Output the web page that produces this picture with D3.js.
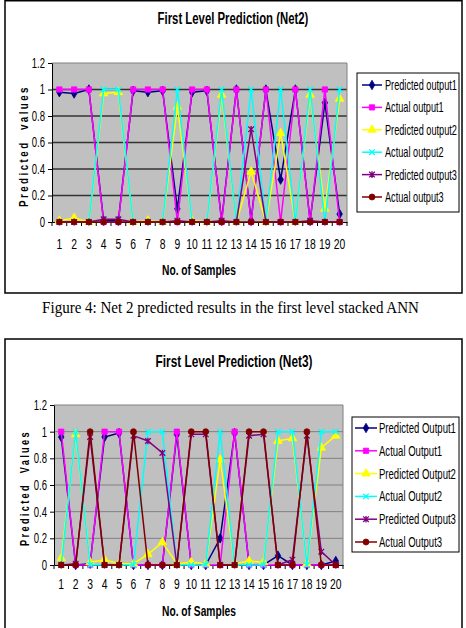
<!DOCTYPE html>
<html lang="en">
<head>
<meta charset="UTF-8">
<title>First Level Prediction</title>
<script src="https://cdn.jsdelivr.net/npm/d3@7"></script>
<style>
  * { margin: 0; padding: 0; }
  body { background: #fff; width: 466px; height: 628px; overflow: hidden; }
  svg { display: block; font-family: 'Liberation Sans', Arial, sans-serif; }
</style>
</head>
<body>
<svg width="466" height="628"></svg>
<script>
// Data
const samples = [1, 2, 3, 4, 5, 6, 7, 8, 9, 10, 11, 12, 13, 14, 15, 16, 17, 18, 19, 20];
const yTicks = [0, 0.2, 0.4, 0.6, 0.8, 1, 1.2];

const net2Labels = ['Predicted output1', 'Actual output1', 'Predicted output2', 'Actual output2', 'Predicted output3', 'Actual output3'];
const net2Pred1 = [0.98, 0.97, 1.0, 0.01, 0.01, 0.99, 0.98, 0.99, 0.1, 0.98, 0.99, 0.01, 1.0, 0.01, 1.0, 0.32, 1.0, 0.01, 0.9, 0.06];
const net2Act1 = [1, 1, 1, 0, 0, 1, 1, 1, 0, 1, 1, 0, 1, 0, 1, 0, 1, 0, 1, 0];
const net2Pred2 = [0.01, 0.03, 0.0, 0.97, 0.98, 0.0, 0.01, 0.0, 0.87, 0.01, 0.0, 0.96, 0.0, 0.38, 0.0, 0.67, 0.0, 0.96, 0.1, 0.93];
const net2Act2 = [0, 0, 0, 1, 1, 0, 0, 0, 1, 0, 0, 1, 0, 1, 0, 1, 0, 1, 0, 1];
const net2Pred3 = [0, 0, 0, 0.02, 0.02, 0, 0, 0, 0.01, 0, 0, 0.01, 0, 0.7, 0, 0, 0, 0.01, 0, 0];
const net2Act3 = [0, 0, 0, 0, 0, 0, 0, 0, 0, 0, 0, 0, 0, 0, 0, 0, 0, 0, 0, 0];

const net3Labels = ['Predicted Output1', 'Actual Output1', 'Predicted Output2', 'Actual Output2', 'Predicted Output3', 'Actual Output3'];
const net3Pred1 = [0.96, 0.0, 0.01, 0.96, 0.99, 0.0, 0.0, 0.0, 0.98, 0.0, 0.0, 0.2, 0.99, 0.0, 0.0, 0.07, 0.0, 0.0, 0.0, 0.03];
const net3Act1 = [1, 0, 0, 1, 1, 0, 0, 0, 1, 0, 0, 0, 1, 0, 0, 0, 0, 0, 0, 0];
const net3Pred2 = [0.05, 0.98, 0.02, 0.04, 0.01, 0.01, 0.08, 0.17, 0.01, 0.02, 0.01, 0.79, 0.01, 0.03, 0.02, 0.93, 0.95, 0.01, 0.88, 0.97];
const net3Act2 = [0, 1, 0, 0, 0, 0, 1, 1, 0, 0, 0, 1, 0, 0, 0, 1, 1, 0, 1, 1];
const net3Pred3 = [0.0, 0.01, 0.96, 0.0, 0.0, 0.97, 0.93, 0.84, 0.0, 0.98, 0.98, 0.0, 0.0, 0.97, 0.98, 0.0, 0.04, 0.97, 0.1, 0.0];
const net3Act3 = [0, 0, 1, 0, 0, 1, 0, 0, 0, 1, 1, 0, 0, 1, 1, 0, 0, 1, 0, 0];

const seriesColors = ['#000080', '#FF00FF', '#FFFF00', '#00FFFF', '#800080', '#800000'];
const seriesMarkers = ['diamond', 'square', 'triangle', 'x', 'star', 'circle'];

const markerPaths = {
  diamond: d3.symbol(d3.symbolDiamond, 26)(),
  square: d3.symbol(d3.symbolSquare, 28)(),
  triangle: d3.symbol(d3.symbolTriangle, 32)(),
  circle: d3.symbol(d3.symbolCircle, 28)(),
  x: 'M-2.8,-2.8L2.8,2.8M-2.8,2.8L2.8,-2.8',
  star: 'M-2.8,-2.8L2.8,2.8M-2.8,2.8L2.8,-2.8M0,-3.3V3.3',
};

const svg = d3.select('svg');

// the original uses a narrow face: squash text horizontally around its anchor
function squeeze(sel, k) {
  sel.each(function () {
    const x0 = +this.getAttribute('x') || 0;
    const base = this.getAttribute('data-base') || '';
    this.setAttribute('transform', `${base} translate(${x0},0) scale(${k},1) translate(${-x0},0)`);
  });
}

function fitWidth(sel, w) {
  sel.each(function () {
    const n = this.getComputedTextLength();
    d3.select(this).call(squeeze, w / n);
  });
}

function addMarker(sel, type, color) {
  const open = type === 'x' || type === 'star';
  sel.append('path')
    .attr('d', markerPaths[type])
    .attr('fill', open ? 'none' : color)
    .attr('stroke', color)
    .attr('stroke-width', open ? 1.3 : 0.8);
}

function drawChart(cfg) {
  const { plot, box, legend } = cfg;
  const g = svg.append('g');

  g.append('rect')
    .attr('x', box.l).attr('y', box.t)
    .attr('width', box.r - box.l).attr('height', box.b - box.t)
    .attr('fill', '#fff').attr('stroke', '#000').attr('stroke-width', 1.5);

  g.append('text')
    .attr('x', cfg.titleX).attr('y', cfg.titleY)
    .attr('text-anchor', 'middle').attr('font-size', 16).attr('font-weight', 'bold')
    .text(cfg.title)
    .call(fitWidth, cfg.titleW);

  const x = d3.scaleBand().domain(samples).range([plot.l, plot.r]);
  const cx = d => x(d) + x.bandwidth() / 2;
  const y = d3.scaleLinear().domain([0, 1.2]).range([plot.b, plot.t]);

  g.append('rect')
    .attr('x', plot.l).attr('y', plot.t)
    .attr('width', plot.r - plot.l).attr('height', plot.b - plot.t)
    .attr('fill', '#C0C0C0');

  g.selectAll('line.grid')
    .data(yTicks.filter(t => t > 0 && t < 1.2))
    .join('line')
    .attr('class', 'grid')
    .attr('x1', plot.l).attr('x2', plot.r)
    .attr('y1', d => y(d)).attr('y2', d => y(d))
    .attr('stroke', cfg.gridColor).attr('stroke-width', cfg.gridWidth);

  g.append('path')
    .attr('d', `M${plot.l},${plot.t}H${plot.r}V${plot.b}`)
    .attr('fill', 'none').attr('stroke', '#808080').attr('stroke-width', 1);

  // axes
  const yAxis = g.append('g')
    .attr('transform', `translate(${plot.l},0)`)
    .call(d3.axisLeft(y).tickValues(yTicks).tickSize(4).tickSizeOuter(0).tickPadding(3).tickFormat(d3.format('~g')));
  yAxis.attr('font-family', null).attr('font-size', null);
  yAxis.select('.domain').attr('stroke', '#000');
  yAxis.selectAll('.tick line').attr('stroke', '#000');
  yAxis.selectAll('text').attr('font-size', 14).attr('fill', '#000').call(squeeze, 0.68);

  const xAxis = g.append('g')
    .attr('transform', `translate(0,${plot.b})`)
    .call(d3.axisBottom(x).tickSize(0).tickSizeOuter(0).tickPadding(cfg.xLabelPad));
  xAxis.attr('font-family', null).attr('font-size', null);
  xAxis.select('.domain').attr('stroke', '#000');
  xAxis.selectAll('text').attr('font-size', 14).attr('fill', '#000').call(squeeze, 0.74);

  g.selectAll('line.xtick')
    .data(d3.range(samples.length + 1))
    .join('line')
    .attr('class', 'xtick')
    .attr('x1', i => plot.l + i * x.step()).attr('x2', i => plot.l + i * x.step())
    .attr('y1', plot.b).attr('y2', plot.b + 4)
    .attr('stroke', '#000');

  g.append('text')
    .attr('x', cfg.xTitleX).attr('y', cfg.xTitleY)
    .attr('text-anchor', 'middle').attr('font-size', 14).attr('font-weight', 'bold')
    .text('No. of Samples')
    .call(fitWidth, cfg.xTitleW);

  g.append('text')
    .attr('data-base', `translate(${cfg.yTitleX},${cfg.yTitleY}) rotate(-90)`)
    .attr('text-anchor', 'middle').attr('font-size', 12).attr('font-weight', 'bold')
    .attr('letter-spacing', 3)
    .text(cfg.yTitle)
    .call(fitWidth, cfg.yTitleW);

  // series, drawn in legend order so later ones sit on top
  const line = d3.line().x((d, i) => cx(samples[i])).y(d => y(d));
  cfg.series.forEach((s, si) => {
    const color = seriesColors[si];
    const sg = g.append('g');
    sg.append('path')
      .attr('d', line(s.values))
      .attr('fill', 'none').attr('stroke', color).attr('stroke-width', 1.5);
    sg.selectAll('g')
      .data(s.values)
      .join('g')
      .attr('transform', (d, i) => `translate(${cx(samples[i])},${y(d)})`)
      .each(function () { addMarker(d3.select(this), seriesMarkers[si], color); });
  });

  // legend
  const lg = g.append('g');
  lg.append('rect')
    .attr('x', legend.l).attr('y', legend.t)
    .attr('width', legend.r - legend.l).attr('height', legend.b - legend.t)
    .attr('fill', '#fff').attr('stroke', '#000').attr('stroke-width', 1);

  const rows = lg.selectAll('g.row')
    .data(cfg.series)
    .join('g')
    .attr('class', 'row')
    .attr('transform', (d, i) => `translate(0,${legend.row0 + i * legend.dy})`);
  rows.append('line')
    .attr('x1', legend.lineX0).attr('x2', legend.lineX1)
    .attr('stroke', (d, i) => seriesColors[i]).attr('stroke-width', 1.5);
  rows.append('g')
    .attr('transform', `translate(${(legend.lineX0 + legend.lineX1) / 2},0)`)
    .each(function (d, i) { addMarker(d3.select(this), seriesMarkers[i], seriesColors[i]); });
  const labels = rows.append('text')
    .attr('x', legend.textX).attr('y', 5)
    .attr('font-size', 14).attr('fill', '#000')
    .text(d => d.name);
  const widest = d3.max(labels.nodes(), n => n.getComputedTextLength());
  labels.call(squeeze, legend.textW / widest);
}

drawChart({
  title: 'First Level Prediction (Net2)',
  titleX: 233, titleY: 24, titleW: 151,
  yTitle: 'Predicted\u00a0\u00a0values',
  yTitleX: 28, yTitleY: 146, yTitleW: 122,
  xTitleX: 199, xTitleY: 275, xTitleW: 74,
  xLabelPad: 17,
  box: { l: 5, t: 0.75, r: 462, b: 293 },
  plot: { l: 52, t: 63, r: 347, b: 222 },
  gridColor: '#333', gridWidth: 1.5,
  legend: { l: 357, t: 73, r: 459, b: 212, row0: 85, dy: 22.4, lineX0: 362, lineX1: 382, textX: 385, textW: 72 },
  series: net2Labels.map((name, i) => ({ name, values: [net2Pred1, net2Act1, net2Pred2, net2Act2, net2Pred3, net2Act3][i] })),
});

drawChart({
  title: 'First Level Prediction (Net3)',
  titleX: 234, titleY: 367, titleW: 157,
  yTitle: 'Predicted\u00a0\u00a0Values',
  yTitleX: 29, yTitleY: 488, yTitleW: 116,
  xTitleX: 199, xTitleY: 616, xTitleW: 74,
  xLabelPad: 14,
  box: { l: 5, t: 339, r: 462, b: 640 },
  plot: { l: 54, t: 405, r: 343, b: 565 },
  gridColor: '#808080', gridWidth: 1,
  legend: { l: 352, t: 417, r: 459, b: 552, row0: 428, dy: 22.8, lineX0: 355, lineX1: 377, textX: 379, textW: 77 },
  series: net3Labels.map((name, i) => ({ name, values: [net3Pred1, net3Act1, net3Pred2, net3Act2, net3Pred3, net3Act3][i] })),
});

svg.append('text')
  .attr('x', 230.5).attr('y', 313)
  .attr('text-anchor', 'middle')
  .attr('font-family', "'Liberation Serif', 'Times New Roman', serif")
  .attr('font-size', 16)
  .text('Figure 4: Net 2 predicted results in the first level stacked ANN')
  .call(fitWidth, 377);
</script>
</body>
</html>
